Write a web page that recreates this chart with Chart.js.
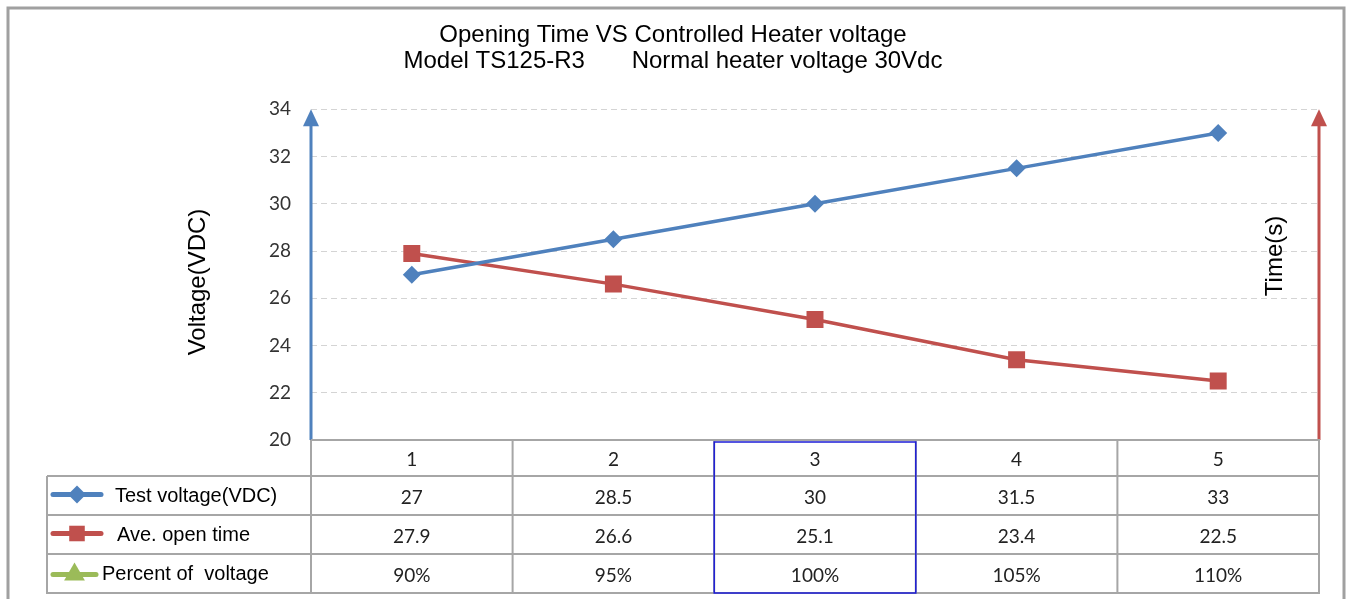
<!DOCTYPE html>
<html>
<head>
<meta charset="utf-8">
<title>Opening Time VS Controlled Heater voltage</title>
<script src="https://cdn.jsdelivr.net/npm/chart.js@4.4.1/dist/chart.umd.min.js"></script>
<style>
  html, body { margin: 0; padding: 0; background: #fff; }
  #wrap { position: relative; width: 1346px; height: 599px; }
</style>
</head>
<body>
<div id="wrap"><canvas id="chart" width="1346" height="599"></canvas></div>
<script>
// Chart data.
const categories = ['1', '2', '3', '4', '5'];
const testVoltage = [27, 28.5, 30, 31.5, 33];
const openTime = [27.9, 26.6, 25.1, 23.4, 22.5];
const percentVoltage = ['90%', '95%', '100%', '105%', '110%'];
const seriesNames = ['Test voltage(VDC)', 'Ave. open time', 'Percent of  voltage'];
const yTicks = [20, 22, 24, 26, 28, 30, 32, 34];
const titleLines = ['Opening Time VS Controlled Heater voltage', 'Model TS125-R3       Normal heater voltage 30Vdc'];
const yTitleLeft = 'Voltage(VDC)';
const yTitleRight = 'Time(s)';

const BLUE = '#4f81bd';
const RED = '#c0504d';
const GREEN = '#9bbb59';
const LINE_GRAY = '#a6a6a6';
const SANS = '"Liberation Sans", Arial, sans-serif';
const NUM = 'Lato, "Open Sans", sans-serif';

// Draw an upward arrow used as an axis line.
function drawArrow(ctx, x, yBottom, yTop, color) {
  ctx.save();
  ctx.strokeStyle = color;
  ctx.fillStyle = color;
  ctx.lineWidth = 3;
  ctx.beginPath();
  ctx.moveTo(x, yBottom);
  ctx.lineTo(x, yTop + 12);
  ctx.stroke();
  ctx.beginPath();
  ctx.moveTo(x, yTop);
  ctx.lineTo(x - 8, yTop + 17);
  ctx.lineTo(x + 8, yTop + 17);
  ctx.closePath();
  ctx.fill();
  ctx.restore();
}

// Legend key inside the data table: a short line with the series marker.
function drawKey(ctx, x1, x2, y, color, style, radius) {
  ctx.save();
  ctx.strokeStyle = color;
  ctx.fillStyle = color;
  ctx.lineWidth = 5;
  ctx.lineCap = 'round';
  ctx.beginPath();
  ctx.moveTo(x1, y);
  ctx.lineTo(x2, y);
  ctx.stroke();
  Chart.helpers.drawPoint(ctx, { pointStyle: style, radius: radius, rotation: 0, borderWidth: 0 }, (x1 + x2) / 2, y);
  ctx.restore();
}

const tablePlugin = {
  id: 'tablePlugin',
  afterDraw(chart) {
    const ctx = chart.ctx;
    const a = chart.chartArea;
    const xs = chart.scales.x;
    const colW = (a.right - a.left) / categories.length;
    const rowY = [0, 36, 75, 114, 153].map(d => a.bottom + d);
    const labelLeft = 47;

    ctx.save();
    // outer frame
    ctx.strokeStyle = '#a0a0a0';
    ctx.lineWidth = 3;
    ctx.beginPath();
    ctx.moveTo(8, chart.height);
    ctx.lineTo(8, 8);
    ctx.lineTo(1344, 8);
    ctx.lineTo(1344, chart.height);
    ctx.stroke();

    // axis arrows
    drawArrow(ctx, a.left, a.bottom, a.top, BLUE);
    drawArrow(ctx, a.right, a.bottom, a.top, RED);

    // axis titles
    ctx.fillStyle = '#000';
    ctx.font = '24px ' + SANS;
    ctx.textAlign = 'center';
    ctx.textBaseline = 'middle';
    ctx.save();
    ctx.translate(198, 282);
    ctx.rotate(-Math.PI / 2);
    ctx.fillText(yTitleLeft, 0, 0);
    ctx.restore();
    ctx.save();
    ctx.translate(1275, 256);
    ctx.rotate(-Math.PI / 2);
    ctx.fillText(yTitleRight, 0, 0);
    ctx.restore();

    // table grid
    ctx.strokeStyle = LINE_GRAY;
    ctx.lineWidth = 2;
    ctx.beginPath();
    rowY.forEach((y, i) => {
      ctx.moveTo(i === 0 ? a.left : labelLeft, y);
      ctx.lineTo(a.right + 1, y);
    });
    for (let i = 0; i <= categories.length; i++) {
      const cx = a.left + i * colW;
      ctx.moveTo(cx, rowY[0]);
      ctx.lineTo(cx, rowY[4] + 1);
    }
    ctx.moveTo(labelLeft, rowY[1]);
    ctx.lineTo(labelLeft, rowY[4] + 1);
    ctx.stroke();

    // highlighted nominal column
    ctx.strokeStyle = '#1c1cd6';
    ctx.lineWidth = 1.5;
    ctx.strokeRect(a.left + 2 * colW, rowY[0] + 2, colW, rowY[4] - rowY[0] - 2);

    // header and values
    const rows = [categories, testVoltage, openTime, percentVoltage];
    ctx.fillStyle = '#222';
    ctx.font = '19px ' + NUM;
    rows.forEach((row, r) => {
      const cy = (rowY[r] + rowY[r + 1]) / 2 + 2;
      row.forEach((v, i) => {
        ctx.fillText(String(v), xs.getPixelForValue(i), cy);
      });
    });

    // row labels with keys
    const keys = [[BLUE, 'rectRot', 9], [RED, 'rect', 11], [GREEN, 'triangle', 12]];
    const labelX = [115, 117, 102];
    const keyEnd = [101, 101, 96];
    ctx.textAlign = 'left';
    ctx.font = '20px ' + SANS;
    for (let r = 0; r < 3; r++) {
      const cy = (rowY[r + 1] + rowY[r + 2]) / 2;
      drawKey(ctx, 53, keyEnd[r], cy - 1 + (r === 2 ? 2 : 0), keys[r][0], keys[r][1], keys[r][2]);
      ctx.fillStyle = '#000';
      ctx.fillText(seriesNames[r], labelX[r], cy + 1);
    }
    ctx.restore();
  }
};

const ctx = document.getElementById('chart').getContext('2d');
new Chart(ctx, {
  type: 'line',
  data: {
    labels: categories,
    datasets: [
      {
        label: seriesNames[0],
        data: testVoltage,
        borderColor: BLUE,
        backgroundColor: BLUE,
        borderWidth: 3.5,
        pointStyle: 'rectRot',
        pointRadius: 9,
        pointBorderWidth: 0,
        tension: 0
      },
      {
        label: seriesNames[1],
        data: openTime,
        borderColor: RED,
        backgroundColor: RED,
        borderWidth: 3.5,
        pointStyle: 'rect',
        pointRadius: 12,
        pointBorderWidth: 0,
        tension: 0
      }
    ]
  },
  options: {
    responsive: false,
    animation: false,
    layout: { padding: { top: 10, left: 27, right: 27, bottom: 159 } },
    plugins: {
      legend: { display: false },
      tooltip: { enabled: false },
      title: {
        display: true,
        text: titleLines,
        color: '#000',
        font: { family: SANS, size: 24, weight: 'normal', lineHeight: 1.09 },
        padding: { top: 12, bottom: 35 }
      }
    },
    scales: {
      x: { display: false, offset: true },
      y: {
        min: 20,
        max: 34,
        afterFit: (scale) => { scale.width = 284; },
        afterBuildTicks: (scale) => { scale.ticks = yTicks.map(v => ({ value: v })); },
        grid: { color: '#d4d4d4', drawTicks: false, lineWidth: 1 },
        border: { display: false, dash: [6, 4] },
        ticks: { padding: 20, color: '#333', font: { family: NUM, size: 19 } }
      }
    }
  },
  plugins: [tablePlugin]
});
</script>
</body>
</html>
